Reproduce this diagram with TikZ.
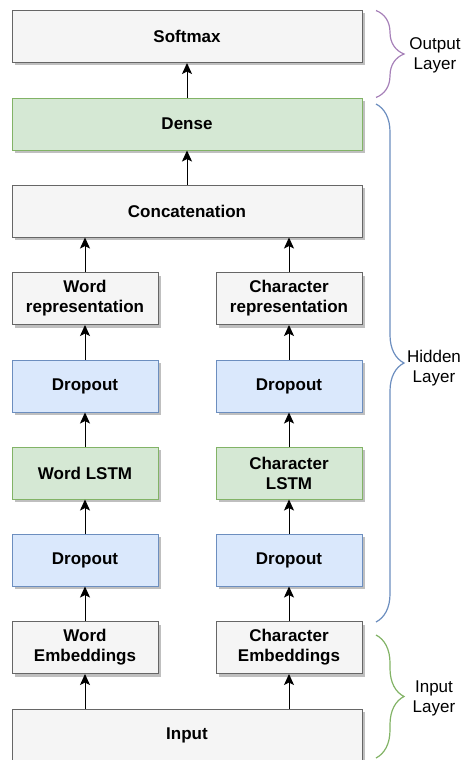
\documentclass[tikz,border=0pt]{standalone}
\usepackage{fontspec}
\setmainfont{Liberation Sans}
\usetikzlibrary{arrows.meta, shadows, decorations.pathreplacing}

\definecolor{grayfill}{HTML}{F5F5F5}
\definecolor{graydraw}{HTML}{666666}
\definecolor{greenfill}{HTML}{D5E8D4}
\definecolor{greendraw}{HTML}{82B366}
\definecolor{bluefill}{HTML}{DAE8FC}
\definecolor{bluedraw}{HTML}{6C8EBF}
\definecolor{purpledraw}{HTML}{A680B8}

\begin{document}
\begin{tikzpicture}[
    x=1pt, y=-1pt,
    every node/.style={font=\fontsize{17}{20}\selectfont\bfseries},
    layer/.style={rectangle, draw, line width=1pt, minimum height=52pt, align=center, inner sep=2pt,
        drop shadow={shadow xshift=3pt, shadow yshift=-3pt, fill=black!25, opacity=1}},
    wide/.style={layer, minimum width=350pt},
    narrow/.style={layer, minimum width=146pt},
    plain/.style={fill=grayfill, draw=graydraw},
    green/.style={fill=greenfill, draw=greendraw},
    blue/.style={fill=bluefill, draw=bluedraw},
    arrow/.style={-{Stealth[length=11pt, width=10pt, inset=2.5pt]}, line width=1pt},
    group/.style={decorate, decoration={brace, amplitude=28pt}, line width=1.2pt},
    grouplabel/.style={font=\fontsize{17}{20}\selectfont, align=center}
]
\clip (0,0) rectangle (464,760);
\useasboundingbox (0,0) rectangle (464,760);

% ---- kolom tengah (lebar) ----
\node[wide, plain]  (softmax) at (187, 36.5) {Softmax};
\node[wide, green]  (dense)   at (187, 124)  {Dense};
\node[wide, plain]  (concat)  at (187, 211)  {Concatenation};
\node[wide, plain]  (input)   at (187, 735)  {Input};

% ---- cabang kata (kiri) ----
\node[narrow, plain] (wrep)  at (85, 298.5) {Word\\representation};
\node[narrow, blue]  (wdrop2) at (85, 386)  {Dropout};
\node[narrow, green] (wlstm) at (85, 473)   {Word LSTM};
\node[narrow, blue]  (wdrop1) at (85, 560)  {Dropout};
\node[narrow, plain] (wemb)  at (85, 647.5) {Word\\Embeddings};

% ---- cabang karakter (kanan) ----
\node[narrow, plain] (crep)  at (289, 298.5) {Character\\representation};
\node[narrow, blue]  (cdrop2) at (289, 386)  {Dropout};
\node[narrow, green] (clstm) at (289, 473)   {Character\\LSTM};
\node[narrow, blue]  (cdrop1) at (289, 560)  {Dropout};
\node[narrow, plain] (cemb)  at (289, 647.5) {Character\\Embeddings};

% ---- alur ke atas ----
\draw[arrow] (input.north -| wemb) -- (wemb);
\draw[arrow] (input.north -| cemb) -- (cemb);
\draw[arrow] (wemb) -- (wdrop1);
\draw[arrow] (cemb) -- (cdrop1);
\draw[arrow] (wdrop1) -- (wlstm);
\draw[arrow] (cdrop1) -- (clstm);
\draw[arrow] (wlstm) -- (wdrop2);
\draw[arrow] (clstm) -- (cdrop2);
\draw[arrow] (wdrop2) -- (wrep);
\draw[arrow] (cdrop2) -- (crep);
\draw[arrow] (wrep) -- (concat.south -| wrep);
\draw[arrow] (crep) -- (concat.south -| crep);
\draw[arrow] (concat) -- (dense);
\draw[arrow] (dense) -- (softmax);

% ---- kurung kurawal lapisan ----
\coordinate (otop) at (376, 10.5);
\coordinate (obot) at (376, 97.5);
\coordinate (htop) at (376, 104);
\coordinate (hbot) at (376, 622);
\coordinate (itop) at (376, 635);
\coordinate (ibot) at (376, 758);
\draw[group, draw=purpledraw] (otop) -- (obot);
\draw[group, draw=bluedraw]   (htop) -- (hbot);
\draw[group, draw=greendraw]  (itop) -- (ibot);
\node[grouplabel] (olabel) at (435, 55)  {Output\\Layer};
\node[grouplabel] (hlabel) at (434, 368) {Hidden\\Layer};
\node[grouplabel] (ilabel) at (434, 698) {Input\\Layer};

\end{tikzpicture}
\end{document}
